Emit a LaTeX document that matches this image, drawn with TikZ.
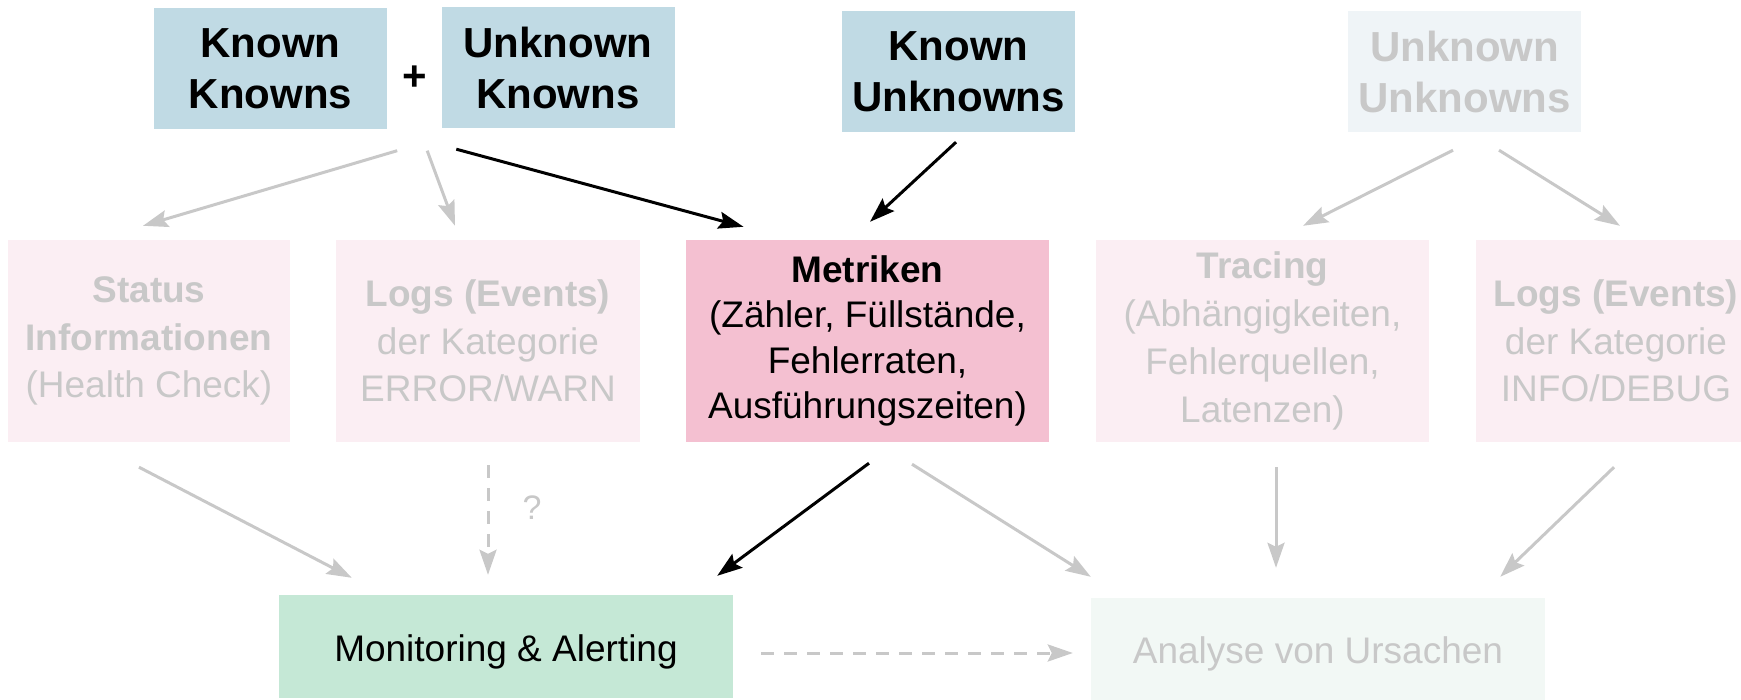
\documentclass[tikz,border=0pt]{standalone}
\usepackage{fontspec}
\setmainfont{Liberation Sans}
\usetikzlibrary{arrows.meta,calc}
\definecolor{topblue}{RGB}{192,218,228}
\definecolor{paleblue}{RGB}{239,244,247}
\definecolor{palepink}{RGB}{251,238,243}
\definecolor{mypink}{RGB}{244,192,209}
\definecolor{mygreen}{RGB}{197,232,214}
\definecolor{palegreen}{RGB}{242,248,245}
\definecolor{fade}{RGB}{200,200,200}
\begin{document}
\begin{tikzpicture}[x=1pt,y=-1pt,
  topbox/.style={rectangle, inner sep=0pt, minimum width=233pt, minimum height=121pt,
    align=center, font=\fontsize{42}{51}\selectfont\bfseries, fill=topblue},
  midbox/.style={rectangle, inner sep=0pt, minimum height=202pt, align=center,
    font=\fontsize{37}{47.5}\selectfont, fill=palepink, text=fade},
  botbox/.style={rectangle, inner sep=0pt, minimum width=454pt, minimum height=103pt,
    font=\fontsize{37}{45}\selectfont, text height=37pt, text depth=8pt},
  garrow/.style={draw=fade, line width=3pt, -{Stealth[length=25pt,width=17pt,inset=4pt]}},
  barrow/.style={draw=black, line width=3pt, -{Stealth[length=25pt,width=17pt,inset=4pt]}},
  gdash/.style={garrow, dash pattern=on 13pt off 10pt}
]
\useasboundingbox (0,0) rectangle (1741,700);
\clip (0,0) rectangle (1741,700);

% top row
\node[topbox] (kk) at (270.5,69) {Known\\Knowns};
\node[topbox] (uk) at (558,67.5) {Unknown\\Knowns};
\node[topbox] (ku) at (958.5,71.5) {Known\\Unknowns};
\node[topbox, fill=paleblue, text=fade] (uu) at (1464.5,71.5) {Unknown\\Unknowns};
\node[font=\fontsize{42}{50}\selectfont\bfseries, inner sep=0pt] (plus) at (414.5,78) {+};

% middle row
\node[midbox, minimum width=282pt] (st) at (149,341)
  {\textbf{Status}\\\textbf{Informationen}\\(Health Check)};
\node[midbox, minimum width=304pt] (le) at (488,341)
  {\textbf{Logs (Events)}\\der Kategorie\\ERROR/WARN};
\node[midbox, font=\fontsize{37}{45.5}\selectfont, minimum width=363pt, fill=mypink, text=black] (me) at (867.5,341)
  {\textbf{Metriken}\\(Zähler, Füllstände,\\Fehlerraten,\\Ausführungszeiten)};
\node[midbox, font=\fontsize{37}{48}\selectfont, minimum width=333pt] (tr) at (1262.5,341)
  {\textbf{Tracing}\\(Abhängigkeiten,\\Fehlerquellen,\\Latenzen)};
\node[midbox, minimum width=280pt] (li) at (1616,341)
  {\textbf{Logs (Events)}\\der Kategorie\\INFO/DEBUG};

% bottom row
\node[botbox, fill=mygreen] (mo) at (506,646.5) {Monitoring \& Alerting};
\node[botbox, fill=palegreen, text=fade, minimum height=102pt] (an) at (1318,649) {Analyse von Ursachen};

% question mark
\node[font=\fontsize{34}{34}\selectfont, text=fade, inner sep=0pt] (q) at (532,508) {?};

% arrows top -> middle
\draw[garrow] ($(kk.south east)+(10,21)$) -- ($(st.north)+(-6,-14)$);
\draw[garrow] ($(kk.south east)+(40,21)$) -- ($(le.north)+(-33,-14)$);
\draw[barrow] ($(uk.south west)+(15,21)$) -- ($(me.north)+(-124,-13)$);
\draw[barrow] ($(ku.south)+(-2.5,10)$) -- ($(me.north)+(2.5,-18)$);
\draw[garrow] ($(uu.south)+(-11.5,18)$) -- ($(tr.north)+(40.5,-14)$);
\draw[garrow] ($(uu.south)+(34.5,18)$) -- ($(li.north)+(4,-14)$);

% arrows middle -> bottom
\draw[garrow] ($(st.south)+(-10,25)$) -- ($(mo.north west)+(73,-17)$);
\draw[gdash] ($(le.south)+(0,23)$) -- ($(mo.north)+(-18,-20)$);
\draw[barrow] ($(me.south)+(1.5,21)$) -- ($(mo.north east)+(-16,-19)$);
\draw[garrow] ($(me.south)+(44.5,22)$) -- ($(an.north west)+(0,-21)$);
\draw[garrow] ($(tr.south)+(13.5,25)$) -- ($(an.north)+(-42,-30)$);
\draw[garrow] ($(li.south)+(-2,25)$) -- ($(an.north east)+(-45,-21)$);

% bottom dashed
\draw[gdash] ($(mo.east)+(28,6.5)$) -- ($(an.west)+(-18,4)$);
\end{tikzpicture}
\end{document}
